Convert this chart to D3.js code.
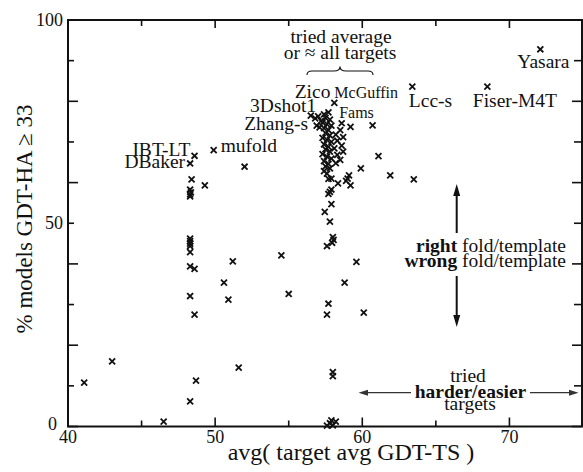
<!DOCTYPE html>
<html>
<head>
<meta charset="utf-8">
<script src="https://cdn.jsdelivr.net/npm/d3@7"></script>
<style>
  html, body { margin: 0; padding: 0; background: #fff; }
</style>
</head>
<body>
<svg id="chart" width="583" height="472"></svg>
<script>
// Axis ticks
const xMajorTicks = [40, 50, 60, 70];
const xMinorTicks = [45, 55, 65];
const yMajorTicks = [0, 20, 40, 60, 80, 100];
const yMinorTicks = [10, 30, 50, 70, 90];
const yTickLabels = [0, 50, 100];

// Unlabelled groups: avg target GDT-TS vs % models with GDT-HA >= 33
const avgGdtTs = [
  41.1, 43.0, 46.5, 48.3, 48.7, 48.6, 48.3, 48.3, 48.6, 48.3,
  48.3, 48.3, 48.3, 48.3, 48.3, 48.3, 48.35, 48.3, 48.4, 49.3,
  52.0, 50.6, 50.9, 51.2, 51.6, 54.5, 55.0, 57.7, 57.6, 58.8,
  59.6, 60.1, 58.0, 58.0, 57.6, 57.8, 58.0, 58.2, 57.9, 57.6,
  57.95, 58.05, 58.0, 57.8, 57.45, 57.9, 57.8, 57.9, 57.7, 58.35,
  58.9, 59.2, 59.1, 59.9, 61.1, 61.9, 63.5, 60.7, 59.2, 56.5,
  56.8, 56.9, 57.2, 57.4, 57.5, 57.8, 57.3, 57.6, 57.9, 57.4,
  57.7, 57.5, 57.8, 57.3, 57.6, 57.9, 57.4, 57.7, 57.5, 57.8,
  57.3, 57.6, 57.9, 57.4, 57.7, 57.5, 57.8, 57.4, 57.6, 58.5,
  58.2, 58.7, 58.3, 58.6, 58.1, 58.7, 58.3, 58.5, 58.2, 57.9,
  57.7, 59.0
];
const pctGdtHa = [
  10.8, 16.0, 1.2, 6.2, 11.3, 27.5, 32.1, 39.4, 38.8, 42.9,
  44.4, 45.0, 45.6, 46.2, 56.6, 57.1, 57.6, 58.3, 60.8, 59.3,
  63.9, 35.4, 31.2, 40.6, 14.5, 42.1, 32.6, 30.2, 27.5, 35.4,
  40.5, 28.0, 13.4, 12.4, 0.2, 0.8, 0.3, 1.2, 1.5, 44.4,
  45.2, 45.9, 46.6, 50.4, 52.8, 54.7, 57.7, 58.3, 57.2, 59.8,
  60.4, 59.3, 61.8, 63.5, 66.5, 61.8, 60.8, 74.1, 73.7, 76.5,
  75.8, 74.0, 75.2, 76.8, 75.9, 75.5, 74.8, 74.4, 74.0, 73.4,
  72.9, 72.2, 71.6, 71.0, 70.5, 70.0, 69.4, 68.8, 68.2, 67.6,
  67.0, 66.4, 65.9, 65.3, 64.6, 64.0, 63.5, 62.8, 62.2, 72.9,
  71.8, 71.2, 70.3, 69.1, 68.4, 67.6, 66.8, 65.6, 64.8, 61.0,
  60.9, 61.0
];

// Named groups
const groupNames = ["Yasara", "Fiser-M4T", "Lcc-s", "McGuffin", "Fams", "Zico",
                    "3Dshot1", "Zhang-s", "mufold", "IBT-LT", "DBaker"];
const groupGdtTs = [72.1, 68.5, 63.4, 58.1, 58.6, 57.7, 57.0, 57.1, 49.9, 48.6, 48.3];
const groupGdtHa = [92.8, 83.6, 83.6, 79.6, 74.6, 77.3, 76.3, 73.6, 68.0, 66.6, 64.7];

const svg = d3.select("#chart");
const plotL = 68, plotR = 582, plotT = 20, plotB = 426.5;

const x = d3.scaleLinear().domain([40, 75]).range([plotL, 583]);
const y = d3.scaleLinear().domain([0, 100]).range([plotB, plotT]);

const ink = "#111";
const serif = '"Liberation Serif"';

// Frame
svg.append("rect")
  .attr("x", plotL).attr("y", plotT)
  .attr("width", plotR - plotL).attr("height", plotB - plotT)
  .attr("fill", "none").attr("stroke", ink).attr("stroke-width", 2);

// Inward ticks on all four sides
const tickGroup = svg.append("g").attr("stroke", ink).attr("stroke-width", 1.6);
xMajorTicks.forEach(v => {
  tickGroup.append("line").attr("x1", x(v)).attr("x2", x(v)).attr("y1", plotB).attr("y2", plotB - 9);
  tickGroup.append("line").attr("x1", x(v)).attr("x2", x(v)).attr("y1", plotT).attr("y2", plotT + 8);
});
xMinorTicks.forEach(v => {
  tickGroup.append("line").attr("x1", x(v)).attr("x2", x(v)).attr("y1", plotB).attr("y2", plotB - 6);
  tickGroup.append("line").attr("x1", x(v)).attr("x2", x(v)).attr("y1", plotT).attr("y2", plotT + 6);
});
yMajorTicks.forEach(v => {
  tickGroup.append("line").attr("x1", plotL).attr("x2", plotL + 10).attr("y1", y(v)).attr("y2", y(v));
  tickGroup.append("line").attr("x1", plotR).attr("x2", plotR - 10).attr("y1", y(v)).attr("y2", y(v));
});
yMinorTicks.forEach(v => {
  tickGroup.append("line").attr("x1", plotL).attr("x2", plotL + 6).attr("y1", y(v)).attr("y2", y(v));
  tickGroup.append("line").attr("x1", plotR).attr("x2", plotR - 8).attr("y1", y(v)).attr("y2", y(v));
});

const txt = sel => sel.attr("fill", ink).style("font-family", serif);

// Tick labels
svg.append("g").selectAll("text").data(xMajorTicks).join("text")
  .attr("x", d => x(d)).attr("y", 443)
  .attr("text-anchor", "middle").attr("font-size", 18)
  .call(txt).text(d => d);
svg.append("g").selectAll("text").data(yTickLabels).join("text")
  .attr("x", d => d === 0 ? 57 : 63)
  .attr("y", d => y(d) + (d === 0 ? 3 : 6))
  .attr("text-anchor", "end").attr("font-size", 18)
  .call(txt).text(d => d);

// Axis titles
svg.append("text")
  .attr("x", 351).attr("y", 460)
  .attr("text-anchor", "middle").attr("font-size", 24)
  .call(txt).text("avg( target avg GDT-TS )");
svg.append("text")
  .attr("transform", "translate(31.5,219) rotate(-90)")
  .attr("text-anchor", "middle").attr("font-size", 23)
  .call(txt).text("% models GDT-HA \u2265 33");

// Markers
const cross = d3.symbol().type(d3.symbolX).size(25);
const pts = avgGdtTs.map((v, i) => [v, pctGdtHa[i]])
  .concat(groupGdtTs.map((v, i) => [v, groupGdtHa[i]]));
svg.append("g").selectAll("path").data(pts).join("path")
  .attr("transform", d => `translate(${x(d[0])},${y(d[1])})`)
  .attr("d", cross)
  .attr("fill", "none").attr("stroke", ink).attr("stroke-width", 1.8);

// Group name labels: [dx, dy, anchor, size]
const labelPlacement = {
  "Yasara":    [-23, 19, "start", 19.5],
  "Fiser-M4T": [-14.5, 20, "start", 19.5],
  "Lcc-s":     [-3.5, 20, "start", 19.5],
  "McGuffin":  [0, -5, "start", 16],
  "Fams":      [-2.5, -5, "start", 16],
  "Zico":      [2, -14, "end", 19.5],
  "3Dshot1":   [-2, -4, "end", 19.5],
  "Zhang-s":   [-11.5, 3, "end", 19.5],
  "mufold":    [7, 1.5, "start", 19.5],
  "IBT-LT":    [-4, 0, "end", 19.5],
  "DBaker":    [-5, 5, "end", 19.5]
};
svg.append("g").selectAll("text").data(groupNames).join("text")
  .attr("x", (d, i) => x(groupGdtTs[i]) + labelPlacement[d][0])
  .attr("y", (d, i) => y(groupGdtHa[i]) + labelPlacement[d][1])
  .attr("text-anchor", d => labelPlacement[d][2])
  .attr("font-size", d => labelPlacement[d][3])
  .call(txt).text(d => d);

// "tried average or ≈ all targets" note with brace
const note = svg.append("g").attr("font-size", 19.5).attr("text-anchor", "middle");
note.append("text").attr("x", 341).attr("y", 43).call(txt).text("tried average");
note.append("text").attr("x", 340).attr("y", 59).call(txt).text("or \u2248 all targets");
svg.append("path")
  .attr("d", "M307,75 Q307,71 312,71 L334,71 Q340,71 340,66.5 Q340,71 346,71 L368,71 Q373,71 373,75")
  .attr("fill", "none").attr("stroke", ink).attr("stroke-width", 1.1);

// right / wrong fold arrow
const ax = 456.7;
svg.append("line").attr("x1", ax).attr("x2", ax).attr("y1", 192).attr("y2", 233)
  .attr("stroke", ink).attr("stroke-width", 2);
svg.append("path").attr("d", `M${ax},184 L${ax - 3.5},196 L${ax + 3.5},196 Z`).attr("fill", ink);
svg.append("line").attr("x1", ax).attr("x2", ax).attr("y1", 276).attr("y2", 318)
  .attr("stroke", ink).attr("stroke-width", 2);
svg.append("path").attr("d", `M${ax},327 L${ax - 3.5},315 L${ax + 3.5},315 Z`).attr("fill", ink);

const fold = svg.append("g").attr("font-size", 19.5).attr("text-anchor", "end");
const t1 = fold.append("text").attr("x", 566).attr("y", 252).call(txt);
t1.append("tspan").attr("font-weight", "bold").text("right");
t1.append("tspan").text(" fold/template");
const t2 = fold.append("text").attr("x", 566).attr("y", 266.5).call(txt);
t2.append("tspan").attr("font-weight", "bold").text("wrong");
t2.append("tspan").text(" fold/template");

// harder / easier arrow
const hy = 392.7;
const grey = "#333";
svg.append("line").attr("x1", 366).attr("x2", 411).attr("y1", hy).attr("y2", hy)
  .attr("stroke", grey).attr("stroke-width", 1.3);
svg.append("path").attr("d", `M358.5,${hy} L368,${hy - 3} L368,${hy + 3} Z`).attr("fill", grey);
svg.append("line").attr("x1", 530).attr("x2", 571).attr("y1", hy).attr("y2", hy)
  .attr("stroke", grey).attr("stroke-width", 1.3);
svg.append("path").attr("d", `M578.5,${hy} L569,${hy - 3} L569,${hy + 3} Z`).attr("fill", grey);

const hard = svg.append("g").attr("font-size", 19.5).attr("text-anchor", "middle");
hard.append("text").attr("x", 468).attr("y", 382).call(txt).text("tried");
hard.append("text").attr("x", 470.5).attr("y", 397.5).attr("font-weight", "bold").call(txt).text("harder/easier");
hard.append("text").attr("x", 470).attr("y", 409.5).call(txt).text("targets");
</script>
</body>
</html>
